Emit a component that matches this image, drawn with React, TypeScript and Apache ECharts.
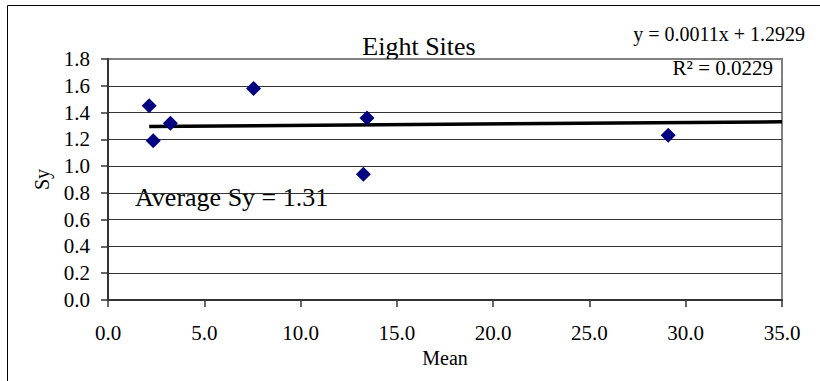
import React, { useEffect, useRef } from "react";
import * as echarts from "echarts";

const meanValues = [2.14, 2.35, 3.24, 7.56, 13.45, 13.26, 29.09];
const syValues = [1.45, 1.19, 1.32, 1.58, 1.36, 0.94, 1.23];
const trendSlope = 0.0011;
const trendIntercept = 1.2929;
const xAxisRange = [0, 35];
const yAxisRange = [0, 1.8];
const titleText = "Eight Sites";
const equationText = "y = 0.0011x + 1.2929";
const r2Text = "R² = 0.0229";
const averageText = "Average Sy = 1.31";

const FONT = "Liberation Serif";

export default function App() {
  const ref = useRef<HTMLDivElement>(null);
  useEffect(() => {
    document.body.style.margin = "0";
    if (!ref.current) return;
    const chart = echarts.init(ref.current, undefined, { renderer: "svg" });
    const points = meanValues.map((x, i) => [x, syValues[i]]);
    const xStart = Math.min(...meanValues);
    const xEnd = xAxisRange[1];
    const trend = [
      [xStart, trendSlope * xStart + trendIntercept],
      [xEnd, trendSlope * xEnd + trendIntercept],
    ];
    chart.setOption({
      animation: false,
      backgroundColor: "#ffffff",
      textStyle: { fontFamily: FONT },
      grid: {
        left: 108,
        top: 59,
        right: 38,
        bottom: 81,
        show: true,
        borderColor: "#808080",
        borderWidth: 2,
        backgroundColor: "transparent",
      },
      xAxis: {
        type: "value",
        min: xAxisRange[0],
        max: xAxisRange[1],
        interval: 5,
        name: "Mean",
        nameLocation: "middle",
        nameGap: 45,
        nameTextStyle: { fontFamily: FONT, fontSize: 20, color: "#000" },
        axisLine: { show: true, lineStyle: { color: "#333", width: 2 } },
        axisTick: { show: true, inside: false, length: 7, lineStyle: { color: "#333", width: 1.5 } },
        axisLabel: {
          fontFamily: FONT,
          fontSize: 21,
          color: "#000",
          margin: 22,
          formatter: (v: number) => v.toFixed(1),
        },
        splitLine: { show: false },
      },
      yAxis: {
        type: "value",
        min: yAxisRange[0],
        max: yAxisRange[1],
        interval: 0.2,
        name: "Sy",
        nameLocation: "middle",
        nameGap: 56,
        nameRotate: 90,
        nameTextStyle: { fontFamily: FONT, fontSize: 20, color: "#000" },
        axisLine: { show: true, lineStyle: { color: "#333", width: 2 } },
        axisTick: { show: true, inside: false, length: 7, lineStyle: { color: "#333", width: 1.5 } },
        axisLabel: {
          fontFamily: FONT,
          fontSize: 21,
          color: "#000",
          margin: 18,
          formatter: (v: number) => v.toFixed(1),
        },
        splitLine: {
          show: true,
          lineStyle: {
            color: ["#333", "#333", "#333", "#333", "#333", "#333", "#333", "#333", "#333", "#808080"],
            width: 1,
          },
        },
      },
      series: [
        {
          type: "line",
          data: trend,
          showSymbol: false,
          symbol: "none",
          lineStyle: { color: "#000", width: 3.5 },
          z: 2,
          silent: true,
        },
        {
          type: "scatter",
          data: points,
          symbol: "diamond",
          symbolSize: 15,
          itemStyle: { color: "#000080", opacity: 1 },
          z: 3,
        },
      ],
      graphic: [
        {
          type: "rect",
          shape: { x: 7.5, y: 5.5, width: 900, height: 500 },
          style: { fill: "none", stroke: "#000", lineWidth: 1 },
          z: -1,
        },
        {
          type: "text",
          x: 419,
          y: 46,
          style: {
            text: titleText,
            fontFamily: FONT,
            fontSize: 26,
            fill: "#000",
            align: "center",
            verticalAlign: "middle",
          },
        },
        {
          type: "text",
          x: 805,
          y: 34,
          style: {
            text: equationText,
            fontFamily: FONT,
            fontSize: 20,
            fill: "#000",
            align: "right",
            verticalAlign: "middle",
          },
        },
        {
          type: "text",
          x: 773,
          y: 68,
          style: {
            text: r2Text,
            fontFamily: FONT,
            fontSize: 21,
            fill: "#000",
            align: "right",
            verticalAlign: "middle",
          },
        },
        {
          type: "text",
          x: 135,
          y: 197,
          style: {
            text: averageText,
            fontFamily: FONT,
            fontSize: 26,
            fill: "#000",
            align: "left",
            verticalAlign: "middle",
          },
        },
      ],
    });
    return () => chart.dispose();
  }, []);
  return <div ref={ref} style={{ width: 820, height: 381 }} />;
}
